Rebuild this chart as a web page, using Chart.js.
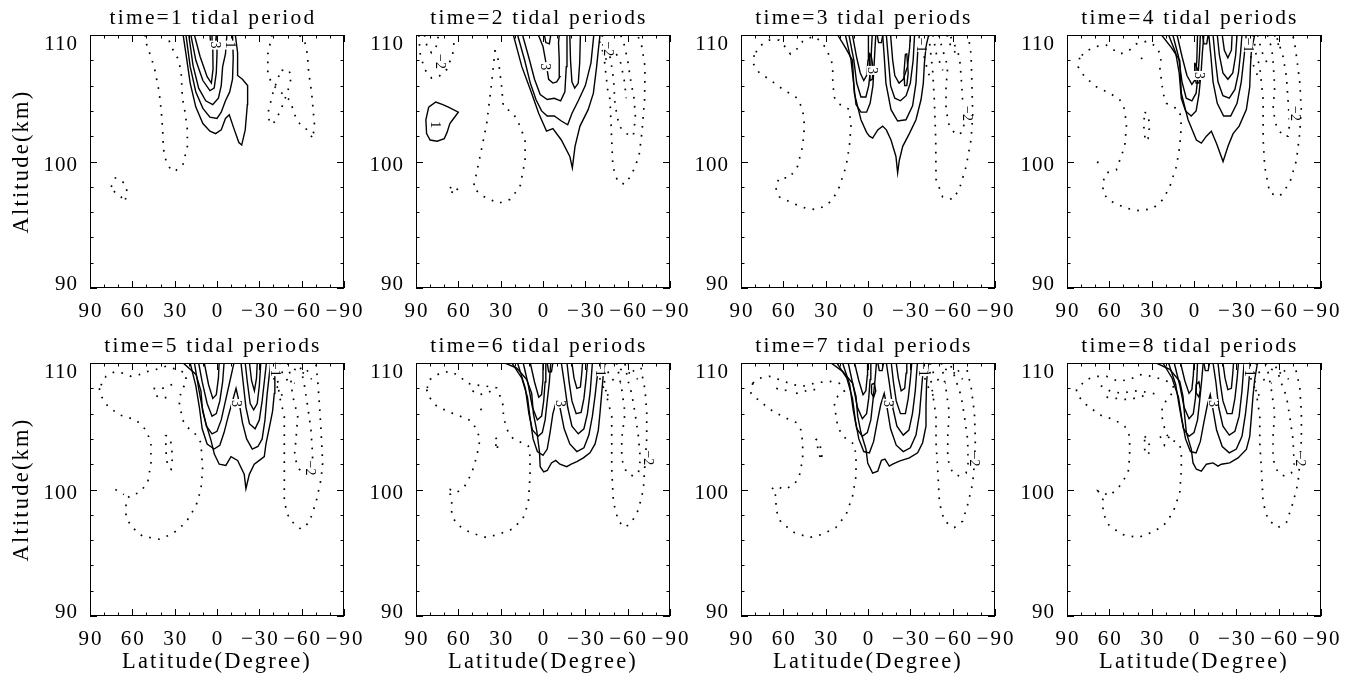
<!DOCTYPE html>
<html>
<head>
<meta charset="utf-8">
<script src="https://cdn.jsdelivr.net/npm/chart.js@4.4.1/dist/chart.umd.min.js"></script>
<style>
  body { margin: 0; background: #fff; width: 1357px; height: 682px; position: relative; overflow: hidden; }
  canvas { position: absolute; }
</style>
</head>
<body>
<script>
// AXIS VALUES
const latTicks = [90, 60, 30, 0, -30, -60, -90];
const latMinor = [80, 70, 50, 40, 20, 10, -10, -20, -40, -50, -70, -80];
const altTicks = [90, 100, 110];
const altMinor = [92, 94, 96, 98, 102, 104, 106, 108];
const titles = ["time=1 tidal period", "time=2 tidal periods", "time=3 tidal periods", "time=4 tidal periods",
  "time=5 tidal periods", "time=6 tidal periods", "time=7 tidal periods", "time=8 tidal periods"];

// CONTOURS: [latitude, altitude] pairs, pos = solid, neg = dotted
const p1Pos = [
  [[24,110],[22,108.5],[19,106.2],[15,104.3],[10,103],[5,102.4],[1,102.2],[-3,102.5],[-6,103.4],[-8.7,103.7],[-12,102.6],[-15.5,101.5],[-17.5,101.3],[-20,102.5],[-21.5,104.5],[-21.7,106],[-18,106.5],[-14.6,106.8],[-14.6,108.6],[-13,110]],
  [[22,110],[19,107.5],[15,105.5],[10,104.2],[5,103.5],[0,103.4],[-3,103.9],[-6,104.8],[-9,105.5],[-11,106.5],[-11.5,108.2],[-11,110]],
  [[20,110],[17,107.6],[13,105.8],[8,104.8],[3,104.5],[-1,105],[-3,106],[-4,107.5],[-6,108.5],[-7,110]],
  [[18.5,110],[15,108],[10,106.4],[5,105.6],[2,105.8],[0.5,107],[0,108.5],[0,110]],
  [[16,110],[12,108.3],[7,106.7],[4,106.2],[2.8,107.3],[3,109],[3.5,110]],
  [[0.5,110],[1,109.4],[3,109.1],[4.5,109.4],[5,110]]
];
const p1Neg = [
  [[51,110],[50,109.3],[46,108],[44,107.2],[41,105.5],[39.5,104],[38.5,102.5],[38,101],[36,100],[33,99.4],[30,99.2],[27,99.5],[24,99.8],[21,101.2],[21,102.5],[22.5,103.8],[24.5,105],[25.5,107.2],[28,108.2],[33,109.2],[35,110]],
  [[75,98],[72,98.7],[69,98.6],[65,98.2],[63.5,97.5],[65.5,96.8],[68,97.2],[72,97.5],[75,98]],
  [[-39,110],[-36,108.5],[-36,106.8],[-40,106],[-47,105.3],[-52,104.8],[-55,103.7],[-59,102.9],[-64,102.5],[-68,101.8],[-69,103],[-67,105.5],[-65,107],[-64,108.5],[-62,109.6],[-58,110]],
  [[-44,106.8],[-40,105.6],[-36.5,104],[-37,103],[-40.5,103.1],[-45,104],[-50,105.5],[-53,106.8],[-50,107.3],[-46,107.2],[-44,106.8]]
];
const p1Labels = [[2, 109.2, "3"], [-9, 109.2, "1"]];

const p2Pos = [
  [[21,110],[15,107.5],[9,105.7],[3,103.8],[-2.5,102.4],[-7,102.6],[-13,101.7],[-19,100.4],[-20.8,99.5],[-22.7,101.2],[-26.2,102.8],[-32,104.1],[-35.7,105.4],[-38,107.5],[-39.2,108.8],[-40.4,110]],
  [[18,110],[13,108],[9,106.2],[5,104.9],[1,104],[-3,103.6],[-8,103.6],[-13,103.2],[-17.5,102.9],[-20.5,103.8],[-25,104.8],[-30,106],[-34,107.8],[-36,110]],
  [[14.5,110],[10,108.2],[6,106.5],[2,105.3],[-3,104.9],[-8,105],[-12.5,104.8],[-15.5,105.5],[-16.5,107.5],[-17,110]],
  [[-19,110],[-19.5,108],[-20.5,106.3],[-22.5,105.8],[-25,106.2],[-26,107.8],[-26.5,110]],
  [[3.3,110],[0,109.1],[-2.6,107.5],[-4,106.5],[-7,106.2],[-9.7,106.3],[-12,106.7],[-11.5,108.1],[-11,109.4],[-11.5,110]],
  [[-1,110],[-2,109.4],[-4.5,109.3],[-5.5,110]],
  [[81,104.3],[76,104.7],[71,104.5],[67,104.3],[60,103.9],[64,103.3],[66,103],[68,102.3],[70,101.8],[75,101.6],[80,101.7],[82.5,102.2],[83,103.3],[81,104.3]]
];
const p2Neg = [
  [[88,110],[87,108.5],[84,107.3],[79,106.6],[74,106.7],[68,107.3],[64,108.5],[62.5,110]],
  [[84,110],[82,109],[79,108.6],[76,108.9],[74,110]],
  [[66,97.9],[63,98.1],[60,97.7],[62,97.5],[65,97.6]],
  [[34,108.8],[36.4,106.2],[39.9,103],[44.6,100.4],[49.4,97.9],[42.3,97.25],[31.6,96.7],[23.4,97],[16.3,98],[12.7,100.1],[12.7,101.7],[16.3,102.8],[21,103.8],[28.1,104.35],[29.3,105.9],[31.6,108],[34,108.8]],
  [[-42,110],[-43,108.5],[-44,107.5],[-46,105.5],[-47.5,104.9],[-48.5,102.2],[-49.5,99.6],[-53,98.4],[-58,98.2],[-63,99],[-68,100.4],[-70,102.2],[-72,104.9],[-72.3,107.5],[-70,109.1],[-67,110]],
  [[-46,109],[-48,108],[-50,106.5],[-51,104.5],[-54,102.8],[-59,102.2],[-64,102],[-65.5,103.5],[-64.5,105],[-62,106.5],[-60,108],[-57,109.5],[-55,110]],
  [[-40,109.5],[-42,108.8],[-45,108],[-48,107.6]],
  [[-52,108.5],[-55,107.8],[-57.5,106.5],[-59,105]]
];
const p2Labels = [[76.5, 102.9, "1"], [73.5, 107.9, "-2"], [-1.5, 107.5, "3"], [-46, 108.9, "-2"]];

const p3Pos = [
  [[21.5,110],[16,109],[11,108],[9.7,105.4],[5,103.3],[1,102.3],[-1,102],[-3.3,101.85],[-6.9,102.5],[-10.4,102.8],[-13,102.5],[-16.3,101.7],[-19.8,100.4],[-21,99.1],[-22.2,100.1],[-24.6,101.2],[-29.3,102.2],[-34,103.3],[-37.6,104.9],[-39.2,106.2],[-40,107.8],[-41.1,109.1],[-43,110]],
  [[16,110],[12,108],[10,106],[8.5,104.5],[5,103.9],[1,103.9],[-1.5,104.6],[-3.5,106],[-4.5,108],[-5.5,110]],
  [[13.5,110],[10,108],[8,106.2],[5,105.1],[1.5,105.1],[-0.5,106],[-2,107.5],[-2.5,109],[-3,110]],
  [[11,110],[8,108.2],[5.5,107],[3,106.4],[1,106.8],[0,108],[-0.3,110]],
  [[-1,108.6],[-2.5,108.2],[-3.8,107.3],[-3,106.5],[-1.5,106.4],[-0.8,107.3],[-1,108.6]],
  [[-10.4,110],[-11.5,108.3],[-12.7,106.2],[-16.3,104.1],[-21,103.2],[-26.9,103.3],[-31.6,104.4],[-34,106.2],[-35.2,108.6],[-36.4,110]],
  [[-13,110],[-14.5,108],[-16,106],[-19,105],[-23,104.8],[-27,105.2],[-30,106.2],[-32,108],[-33,110]],
  [[-16,110],[-17.5,108],[-19,106.8],[-22,106.2],[-25,106.5],[-28,107.5],[-29.5,109],[-30,110]],
  [[-26.5,108.5],[-25.5,107],[-26,106],[-27.5,106],[-28.5,107],[-27.5,108.5],[-26.5,108.5]],
  [[-6.5,110],[-7.5,109.4],[-9.5,109.4],[-10.5,110]]
];
const p3Neg = [
  [[80.6,108.4],[81.7,107.8],[77,107],[70,106.5],[62.8,105.9],[55.8,105.4],[50,105],[46.3,104.1],[45,102.8],[46.3,101.2],[50,99.6],[55.8,98.7],[62.8,98.7],[65.7,98],[62.8,97.2],[53.4,96.7],[44,96.3],[37,96.2],[30,96.5],[25,97],[20.3,98],[15.6,99.6],[13.2,101.2],[12.1,102.8],[13.2,104.1],[16.8,104.35],[21.5,104.6],[24,105.1],[25,106.5],[25,107.5],[26,108],[30,109],[34.5,109.6],[39,109.9],[46.3,109.5],[51,108.8],[55,108.5],[59,109.1],[63,109.6],[70,109.6],[77,109.1],[80.6,108.4]],
  [[-43,110],[-44.5,108.5],[-45.8,107.2],[-47,104.9],[-48,101.7],[-48.2,98.6],[-52.9,97.2],[-60,97],[-64.7,97.8],[-69.5,99.6],[-73,101.7],[-74.2,103.6],[-73.5,106.7],[-73,108.5],[-71,110]],
  [[-50,110],[-53,108.8],[-56.5,107.5],[-55.3,105.9],[-55.3,104.1],[-57.6,102.8],[-62.4,102.1],[-67,102.3],[-68.3,103.1],[-67,104.9],[-66,106.7],[-64.8,108.3],[-61,109.3],[-58,110]],
  [[-38,109],[-40,108.2],[-42,107.3],[-44,106.6]],
  [[-46,110],[-48.5,108.5],[-51,107.8],[-53,107.2]],
  [[-56,110],[-59,109],[-62,108.6]]
];
const p3Labels = [[-2.5, 107.2, "3"], [-37, 109.2, "-1"], [-70, 103.8, "-2"]];

const p4Pos = [
  [[23,110],[16,109],[10.1,108],[9,105.4],[4.2,103.3],[-1.7,101.7],[-5.2,101.45],[-8.8,102],[-12.3,102.4],[-15.9,101.45],[-20.6,100],[-24.1,101.2],[-27.7,102.2],[-32,102.8],[-37.1,104.1],[-39.5,105.9],[-40,107.5],[-40.7,108.8],[-43,110]],
  [[18,110],[13,108.6],[10.5,107],[9,105],[6,104],[2,103.6],[-1.5,104],[-3.5,105.3],[-5,107],[-6,108.7],[-7,110]],
  [[15,110],[11,108.3],[8.5,106.3],[5.5,105],[1.5,104.8],[-1.5,105.4],[-3,107],[-4,108.7],[-4.5,110]],
  [[12,110],[8.5,108.3],[5,106.8],[1.5,106.1],[-1,106.5],[-2,108],[-2.5,110]],
  [[-0.5,107.8],[-2.5,107.3],[-4.5,106.8],[-3.5,106.2],[-1.5,106.2],[-0.5,107],[-0.5,107.8]],
  [[-10.5,110],[-12,108.3],[-13.5,106.3],[-16.5,104.6],[-21,103.6],[-26,103.6],[-30.5,104.6],[-33.5,106.3],[-35.5,108.3],[-37,110]],
  [[-13.5,110],[-15,108.2],[-17,106.3],[-20.5,105.2],[-25,105],[-29,105.7],[-31.5,107],[-33,108.6],[-34,110]],
  [[-16.5,110],[-18,108.4],[-20.5,107],[-24,106.5],[-27.5,107],[-29.5,108.4],[-30.5,110]],
  [[-20,110],[-21.5,108.8],[-24,108.2],[-26.5,108.8],[-27,110]],
  [[-6,110],[-7,109.3],[-9,109.3],[-10,110]]
];
const p4Neg = [
  [[81,108.2],[82.2,107.5],[77.5,106.7],[69.2,105.9],[59.7,105.4],[52.7,104.9],[49.1,104.1],[47.9,102.8],[49.1,101.2],[55,99.35],[62.1,99.1],[64.5,98.4],[64.5,97.5],[59.7,96.9],[47.9,96.3],[38.5,96.1],[29,96.3],[21.9,97],[17.2,98],[12.5,99.6],[10.1,101.2],[9,102.8],[10.1,104],[14.9,104.35],[19.6,104.6],[21.9,105.4],[24.3,107.5],[23.1,108.3],[26.7,109.1],[33.7,109.5],[40.8,109.3],[46.7,108.7],[52.7,108.5],[58.6,108.95],[62.1,109.2],[69.2,109.1],[77,108.7],[81,108.2]],
  [[68.5,100],[66,99.5]],
  [[35,103.9],[32.6,103.7],[31.4,102.8],[32.6,101.8],[34.5,101.6],[35.6,102.8],[35,103.9]],
  [[37.5,108.2],[35,107.9],[33.5,107.7]],
  [[-42,110],[-44,108.5],[-46.6,107.5],[-49,104.9],[-49,101.7],[-50.1,99.6],[-53.7,97.5],[-60.7,97.25],[-67.8,98.3],[-72.6,100.1],[-74.9,102.2],[-76,104.1],[-75,106.2],[-73,108],[-71.4,109.3],[-70,110]],
  [[-52,110],[-55,109],[-56,108],[-57.2,105.9],[-56,104.1],[-58.4,102.8],[-63.1,102],[-66.6,102],[-67.8,103],[-66.6,104.9],[-65.5,106.7],[-63.1,108.3],[-60,109.4],[-58,110]],
  [[-38.5,109],[-40.5,108.2],[-43,107.3],[-45.5,106.7]],
  [[-45,110],[-48,108.7],[-51,108],[-53,107.4]],
  [[-57,110],[-60,109.2],[-63,108.8]]
];
const p4Labels = [[-3, 106.8, "3"], [-38, 109.2, "-1"], [-71, 103.8, "-2"]];

const p5Pos = [
  [[24,110],[14.9,109.1],[11.4,107.8],[10.2,106.2],[7.8,105.2],[4.3,103.9],[1.9,102.8],[-1.6,102],[-6.3,101.9],[-9.9,102.6],[-14.6,102.3],[-19.3,101.2],[-20.5,100.06],[-22.9,101.2],[-26.4,102],[-30,102.3],[-33.5,102.6],[-34.7,103.6],[-37.1,104.9],[-39.4,106.2],[-40.6,107.6],[-41,109],[-42,110]],
  [[19,110],[15,108.2],[12.5,106.5],[10.5,104.8],[7,103.6],[2,103.2],[-2,103.5],[-5,104.5],[-8,105.8],[-11,107],[-13.5,108],[-15.5,107],[-18,105.3],[-21,104],[-25,103.2],[-29,103.4],[-32,104],[-34,105.5],[-35.5,107.5],[-37,109],[-38,110]],
  [[16,110],[13,108],[10.5,106.5],[7.5,105],[3.5,104.4],[0,104.6],[-3,105.5],[-6,107],[-9,108.5],[-11,109.5],[-12,110]],
  [[-17,110],[-18.5,108.5],[-20.5,106.5],[-23,105.2],[-27,104.8],[-30,105.5],[-32,107],[-33.5,108.5],[-35,110]],
  [[13,110],[10.5,108.5],[7,106.8],[3.5,105.8],[0.5,106],[-2,107],[-4,108.5],[-5,110]],
  [[-20,110],[-21.5,108.5],[-23.5,106.8],[-26,106.3],[-28.5,106.8],[-30,108.2],[-31,110]],
  [[9,110],[6,108.3],[3,107.2],[0.5,107.5],[-1,108.8],[-1.5,110]],
  [[-23,110],[-24.5,108.6],[-26.5,107.8],[-28,108.8],[-28.5,110]]
];
const p5Neg = [
  [[83.4,108],[82.2,107.4],[77.5,106.6],[69.2,105.9],[63.3,105.7],[57.4,105.5],[50.3,104.7],[46.8,103.7],[46.8,102.1],[49.2,100.5],[55.1,99.75],[62.1,99.5],[64.5,99],[64.5,97.9],[61,97.1],[52.7,96.3],[40.9,96.07],[31.4,96.5],[22,97.4],[14.9,98.7],[11.4,100],[10.2,101.6],[11.4,103.7],[16.1,104.5],[20.8,104.9],[24.4,105.5],[26.7,106.85],[25.5,107.8],[22,108.4],[22,109.2],[29,109.5],[36.2,109.74],[43,109.5],[50.3,109.3],[55.1,109.08],[61,108.95],[66.9,109.2],[72.8,109.3],[78.7,108.95],[83.4,108]],
  [[72,100],[69,99.8],[66,99.6]],
  [[36.5,104.3],[33,104],[31.5,102.6],[32.5,101.6],[35,101.8],[36,102.8],[36.5,104.3]],
  [[45,108],[41,107.9],[36,108.1],[30,108.4]],
  [[43,107.4],[38,107.2],[33,107.4]],
  [[-42,110],[-43,108.6],[-44.2,107.4],[-47.7,105.8],[-47.7,104],[-47.7,101.6],[-47.7,99],[-51.2,97.64],[-59.5,96.86],[-65.4,97.4],[-70.2,99],[-73.7,100.8],[-74.9,102.1],[-73.7,104.7],[-72.5,106.85],[-71.3,108.7],[-70,110]],
  [[-50,110],[-52,109],[-53.6,107.4],[-57.2,105.8],[-56,104],[-54.8,102.6],[-58.3,101.6],[-63.1,101.2],[-66.6,101.6],[-67.8,102.6],[-66.6,104.7],[-64.2,106.6],[-62,108.2],[-60,109.3],[-58,110]],
  [[-38.5,109.5],[-41,108.5],[-44,107.8],[-47,107.3]],
  [[-44,110],[-47,109],[-51,108.5],[-55,108.4]],
  [[-50,110],[-55,109.5],[-60,109.3],[-64,109]],
  [[-60,110],[-64,109.4],[-67,108.7]]
];
const p5Labels = [[-13.5, 106.8, "3"], [-41, 109.5, "-1"], [-66, 101.7, "-2"]];

const p6Pos = [
  [[27,110],[18.6,109.6],[11.6,108.7],[8,107.6],[6.8,106],[4.5,104.7],[2.5,103],[2,101.8],[-0.5,101.4],[-3,101.5],[-6,102.1],[-9,102.3],[-12,102],[-16.8,101.8],[-20,102],[-24,102.2],[-28.6,102.5],[-33.3,102.9],[-36.9,103.6],[-39.2,104.7],[-40.4,106.06],[-41.6,107.6],[-42.8,109.2],[-44,110]],
  [[22,110],[15,108.8],[11,107.3],[9,105.5],[7,104],[4,103],[0,102.7],[-3,103.2],[-5,104.5],[-7,106],[-9.5,107],[-12,106.5],[-15,104.8],[-19,103.6],[-24,103],[-29,103.3],[-32.5,104.3],[-35,105.8],[-37,107.5],[-38.5,109],[-39.5,110]],
  [[18,110],[12.5,108],[10,106],[7.5,104.7],[3.5,104.2],[0.5,104.5],[-1.5,105.5],[-3,107],[-4.5,108.5],[-5.5,110]],
  [[14,110],[10.5,108.3],[7.5,106.5],[4,105.5],[1,105.8],[-0.5,107],[-1.5,108.5],[-2,110]],
  [[9,110],[6,108.5],[3,107.3],[1,107.5],[0,108.7],[0,110]],
  [[-13,110],[-15,108.5],[-17.5,106.5],[-20.5,105],[-25,104.4],[-29,104.8],[-31.5,106],[-33.5,107.8],[-35,110]],
  [[-17,110],[-18.5,108.5],[-20.5,107],[-23.5,106],[-27,106.1],[-29,107.2],[-30.5,108.7],[-31.5,110]],
  [[-20.5,110],[-22,108.8],[-24,108],[-26.5,108.1],[-27.5,109.2],[-28,110]],
  [[-3,110],[-4,109.3],[-6,109.3],[-7,110]]
];
const p6Neg = [
  [[82.4,107.9],[81.3,107.4],[75.4,106.6],[65.9,106.1],[56.5,105.7],[50.5,105.4],[47,104.7],[44.6,104],[47,102.6],[50.5,101.3],[55.3,100.3],[61.2,99.75],[66,100],[68.3,99.9],[65.5,99.6],[64.7,98.96],[64.7,98],[61.2,97.25],[51.7,96.6],[39.9,96.2],[30.5,96.5],[21,96.9],[13.9,97.8],[10.4,98.96],[9.2,101.06],[9.2,102.64],[10.4,103.43],[15.1,103.7],[21,104],[24.6,104.5],[28.1,105.7],[28.1,106.6],[30.5,107.4],[32.8,108.03],[39.9,108.16],[49.4,108.3],[54.1,108.4],[58.8,108.95],[65.9,109.34],[73,109.2],[80.1,108.7],[82.4,107.9]],
  [[50,107.8],[45,107.5],[40,107.6],[35,107.9]],
  [[44.5,106.3],[42.5,106.4]],
  [[33.5,104.1],[32.5,103.9],[32.2,103.2],[33.3,103.1],[33.5,104.1]],
  [[-42,110],[-43.5,108.6],[-45.1,107.4],[-48.7,105.8],[-48.7,104],[-48.7,101.6],[-49.9,99],[-53.4,97.5],[-58.1,97],[-62.8,97.4],[-67.6,98.4],[-71.1,100],[-72.3,102.1],[-73.5,104],[-73.5,106.06],[-72.3,107.9],[-70,109.2],[-69,110]],
  [[-52,110],[-54,109],[-55.8,107.9],[-58.1,106.06],[-55.8,104],[-55.8,102.4],[-59.3,101.3],[-64,101.06],[-67.6,101.3],[-69,102.4],[-67.6,104.2],[-65.2,106.06],[-62.8,107.6],[-60,108.7],[-58,110]],
  [[-38.5,109.5],[-41,108.5],[-44,107.8],[-47,107.3]],
  [[-44,110],[-47,109],[-51,108.5],[-55,108.4]],
  [[-50,110],[-55,109.5],[-60,109.3],[-64,109]],
  [[-60,110],[-64,109.4],[-67,108.7]]
];
const p6Labels = [[-12, 106.8, "3"], [-40, 109.5, "-1"], [-74, 102.5, "-2"]];

const p7Pos = [
  [[26.2,110],[18,109.34],[10.9,108.4],[8.5,107.37],[7.3,105.8],[5,104.5],[1.4,103.17],[0.2,102.1],[-3.3,101.3],[-6.9,101.45],[-9.5,102.3],[-12,102.4],[-15.1,101.85],[-17.5,102],[-22.2,102.25],[-29.3,102.5],[-35.2,102.9],[-38.7,103.7],[-41.1,105],[-41.1,106.58],[-41.5,108.4],[-42.3,109.5],[-43,110]],
  [[22,110],[15,108.8],[11,107.2],[9,105.5],[6.5,104],[3,103],[-1,102.9],[-4,103.8],[-6.5,105.3],[-9,106.7],[-11.5,107.6],[-13.5,106.5],[-16,104.8],[-20,103.5],[-25,103],[-30,103.3],[-34,104.3],[-36.5,106],[-38,108],[-39.5,110]],
  [[18,110],[13,108.3],[10.5,106.3],[8,104.8],[4,104.2],[0.5,104.5],[-2,105.5],[-3.5,107],[-5,108.7],[-6,110]],
  [[14,110],[10.5,108.2],[7.5,106.5],[4,105.6],[1,106],[-0.5,107.2],[-1.5,108.7],[-2,110]],
  [[9.5,110],[6.5,108.6],[3.5,107.5],[1.5,107.8],[0.5,109],[0.3,110]],
  [[-2.5,108.3],[-4.5,108.4],[-5.5,107.8],[-4,107.3],[-2.5,107.6],[-2.5,108.3]],
  [[-13,110],[-15,108.5],[-17.5,106.5],[-20.5,105],[-25,104.3],[-29,104.7],[-31.5,106],[-33.5,107.8],[-35,110]],
  [[-16.5,110],[-18,108.5],[-20,107],[-23,106],[-26.5,106],[-28.5,107.2],[-30,108.7],[-31,110]],
  [[-20,110],[-21.5,108.8],[-23.5,107.8],[-26,108],[-27,109.2],[-27.5,110]],
  [[-7,110],[-8,109.4],[-10,109.4],[-11,110]]
];
const p7Neg = [
  [[81.7,108.4],[82.9,107.6],[77,107],[67.6,106.2],[59.3,105.7],[51,105.3],[47.5,104.7],[46.3,103.7],[46.3,102.4],[48.7,101.06],[52.2,100.4],[59.3,100],[65.2,100.27],[68.7,100],[65.2,99.5],[65.2,98.4],[61.7,97.4],[52.2,96.6],[41.6,96.2],[32.1,96.46],[22.7,97],[15.6,98],[10.9,99.5],[8.5,101.06],[8.5,102.64],[9.7,103.56],[14.4,103.96],[18,104.2],[21.5,105],[22.7,105.8],[23.9,106.85],[21.5,107.37],[16.8,107.77],[20.3,108.4],[27.4,108.56],[36.9,108.43],[46.3,108.16],[53.4,108.3],[62.8,108.69],[69.9,108.95],[77,108.8],[81.7,108.4]],
  [[65,108],[60,107.8],[56,107.9]],
  [[51,107.6],[46.3,107.7],[41.6,107.9],[35,107.9]],
  [[37,104],[34.5,103.7],[32.5,102.8],[33.3,102.3],[35,103],[37,104]],
  [[-43,110],[-44.5,108.7],[-45.8,107.6],[-48.2,105.8],[-48.2,103.7],[-49.4,101.6],[-50.6,98.96],[-54.1,97.5],[-61.2,97],[-67.1,97.5],[-70.6,98.8],[-74.2,100.5],[-75.4,102.1],[-76.1,103.96],[-75.4,106.06],[-73,108.16],[-70.6,109.2],[-69.5,110]],
  [[-52,110],[-53.5,109],[-55.3,107.9],[-57.6,106.06],[-56.5,104.2],[-56.5,102.4],[-60,101.3],[-64.7,101.06],[-69.5,101.3],[-71,102.1],[-70.6,103.96],[-68.3,105.8],[-66,107.4],[-63,108.4],[-60,109.4],[-58,110]],
  [[-38.5,109.5],[-41,108.5],[-44,107.8],[-47,107.3]],
  [[-44,110],[-47,109],[-51,108.5],[-55,108.4]],
  [[-50,110],[-55,109.5],[-60,109.3],[-64,109]],
  [[-60,110],[-64,109.4],[-67,108.7]]
];
const p7Labels = [[-14, 106.8, "3"], [-39, 109.5, "-1"], [-75, 102.4, "-2"]];

const p8Pos = [
  [[26.7,110],[17.2,109.5],[10.1,108.56],[7.8,107.37],[6.6,105.8],[5.4,104.5],[1.9,103.17],[0.7,102.1],[-1.7,101.6],[-5.2,101.45],[-8.8,102],[-13.5,102.1],[-17,101.85],[-19.4,102],[-25.3,102.1],[-31.2,102.5],[-37.1,103.17],[-39.5,104.2],[-40.7,105.8],[-41.8,107.37],[-43,108.69],[-45,110]],
  [[22,110],[15.5,108.8],[11,107.3],[8.5,105.5],[6,104],[2.5,103],[-1.5,102.9],[-4.5,103.8],[-7,105.3],[-9.5,106.7],[-11.5,107.5],[-13.5,106.3],[-16,104.7],[-20,103.4],[-25,102.9],[-30,103.2],[-34,104.2],[-36.5,106],[-38.5,108],[-40,110]],
  [[18,110],[13,108.3],[10,106.3],[7.5,104.8],[3.5,104.2],[0,104.5],[-2.5,105.5],[-4,107],[-5.5,108.7],[-6.5,110]],
  [[14,110],[10,108.2],[7,106.5],[3.5,105.6],[0.5,106],[-1,107.2],[-2,108.7],[-2.5,110]],
  [[9.5,110],[6.5,108.6],[3.5,107.6],[1.5,107.9],[0.5,109],[0,110]],
  [[-1.5,108.3],[-3.5,108.5],[-4.5,107.9],[-3.5,107.3],[-1.8,107.6],[-1.5,108.3]],
  [[-13.5,110],[-15.5,108.5],[-17.5,106.5],[-20.5,105],[-25,104.3],[-29,104.6],[-32,105.8],[-34,107.8],[-35.5,110]],
  [[-17,110],[-18.5,108.5],[-20.5,107],[-23.5,106],[-27,106],[-29,107.2],[-30.5,108.7],[-31.5,110]],
  [[-20.5,110],[-22,108.8],[-24,107.9],[-26.5,108],[-27.5,109.2],[-28,110]],
  [[-7,110],[-8,109.4],[-10,109.4],[-11,110]]
];
const p8Neg = [
  [[83.4,107.9],[82.2,107.4],[76.3,106.7],[66.8,105.9],[56.2,105.5],[49.1,105],[45.6,104.2],[45.6,102.64],[46.7,101.3],[52.7,100.27],[59.7,99.5],[64.5,99.75],[68,99.88],[64.5,99.2],[64.5,98.17],[60.9,97.25],[51.5,96.46],[39.7,96.2],[30.2,96.6],[21.9,97.1],[14.9,98.17],[10.1,99.75],[9,101.6],[9,102.9],[10.1,103.56],[16,103.96],[19.6,104.35],[21.9,105.27],[23.1,106.06],[21.9,106.7],[17.2,107.37],[13.7,107.9],[16,108.4],[21.9,108.69],[30.2,108.95],[38.5,109.08],[45.6,108.69],[53.8,108.56],[62.1,108.95],[69.2,108.95],[76.3,108.69],[83.4,107.9]],
  [[66,108.2],[59.7,107.8],[51.5,107.6],[42.8,107.8],[33.5,107.7],[25,107.5]],
  [[62,107.3],[55,107.2],[46.7,107.1],[38.5,107.3],[31,107.6]],
  [[35,104.2],[32,103.9],[31.4,103],[33,102.7],[35,103.2],[35,104.2]],
  [[24,104.2],[21,103.5],[17,104.3]],
  [[-41.5,110],[-43,108.7],[-44.2,107.6],[-46.6,105.8],[-46.6,103.7],[-47.8,101.6],[-49,98.96],[-52.5,97.6],[-59.6,97],[-65.5,97.4],[-70.2,98.96],[-73.7,100.5],[-74.9,102.1],[-76.1,103.96],[-76.1,106.06],[-74.9,108.16],[-72.6,109.2],[-71.5,110]],
  [[-51,110],[-53,109],[-54.8,107.9],[-57.2,106.06],[-56,104.2],[-56,102.4],[-59.6,101.3],[-64.3,101.06],[-69,101.3],[-71,102],[-70.2,103.96],[-67.8,105.8],[-65.5,107.37],[-61.9,108.4],[-59,109.4],[-57,110]],
  [[-38.5,109.5],[-41,108.5],[-44,107.8],[-47,107.3]],
  [[-44,110],[-47,109],[-51,108.5],[-55,108.4]],
  [[-50,110],[-55,109.5],[-60,109.3],[-64,109]],
  [[-60,110],[-64,109.4],[-67,108.7]]
];
const p8Labels = [[-13.5, 106.8, "3"], [-39, 109.5, "-1"], [-75, 102.4, "-2"]];

const panels = [
  { pos: p1Pos, neg: p1Neg, labels: p1Labels },
  { pos: p2Pos, neg: p2Neg, labels: p2Labels },
  { pos: p3Pos, neg: p3Neg, labels: p3Labels },
  { pos: p4Pos, neg: p4Neg, labels: p4Labels },
  { pos: p5Pos, neg: p5Neg, labels: p5Labels },
  { pos: p6Pos, neg: p6Neg, labels: p6Labels },
  { pos: p7Pos, neg: p7Neg, labels: p7Labels },
  { pos: p8Pos, neg: p8Neg, labels: p8Labels }
];

// LAYOUT
const plotLeft = [90, 416, 741, 1067];
const plotTop = [35, 363];
const padL = 80, padT = 35, padR = 26, padB = 60;
const plotW = 254, plotH = 253;
const SERIF = '"Liberation Serif", "Times New Roman", serif';

function fmtLat(v) {
  return v < 0 ? "\u2212" + Math.abs(v) : String(v);
}

// IDL STYLE FRAME: box, inward ticks on all sides, labels, titles
const idlFrame = {
  id: "idlFrame",
  afterDatasetsDraw(chart, args, o) {
    const { ctx, chartArea: a, scales: { x, y } } = chart;
    ctx.save();
    ctx.strokeStyle = "#000";
    ctx.fillStyle = "#000";
    ctx.lineWidth = 1;

    // contour labels, with a small gap in the line like IDL
    ctx.font = "14px " + SERIF;
    ctx.textAlign = "center";
    ctx.textBaseline = "middle";
    o.labels.forEach(([lat, alt, txt]) => {
      const px = x.getPixelForValue(lat), py = y.getPixelForValue(alt);
      const w = ctx.measureText(txt).width;
      ctx.save();
      ctx.translate(px, py);
      ctx.rotate(Math.PI / 2);
      ctx.fillStyle = "#fff";
      ctx.fillRect(-w / 2 - 1, -5, w + 2, 10);
      ctx.fillStyle = "#000";
      ctx.fillText(txt.replace("-", "\u2212"), 0, 0);
      ctx.restore();
    });

    ctx.strokeRect(a.left + 0.5, a.top + 0.5, a.width - 1, a.height - 1);

    ctx.beginPath();
    const xt = (v, len) => {
      const px = Math.round(x.getPixelForValue(v)) + 0.5;
      ctx.moveTo(px, a.bottom); ctx.lineTo(px, a.bottom - len);
      ctx.moveTo(px, a.top); ctx.lineTo(px, a.top + len);
    };
    const yt = (v, len) => {
      const py = Math.round(y.getPixelForValue(v)) + 0.5;
      ctx.moveTo(a.left, py); ctx.lineTo(a.left + len, py);
      ctx.moveTo(a.right, py); ctx.lineTo(a.right - len, py);
    };
    latTicks.forEach(v => xt(v, 7));
    latMinor.forEach(v => xt(v, 3.5));
    altTicks.forEach(v => yt(v, 7));
    altMinor.forEach(v => yt(v, 3.5));
    ctx.stroke();

    // tick labels
    ctx.font = "21px " + SERIF;
    ctx.textBaseline = "alphabetic";
    ctx.textAlign = "center";
    ctx.letterSpacing = "2px";
    latTicks.forEach(v => ctx.fillText(fmtLat(v), x.getPixelForValue(v) + 1, a.bottom + 28.5));
    ctx.letterSpacing = "1px";
    ctx.textAlign = "right";
    altTicks.forEach(v => {
      let by = y.getPixelForValue(v) + 9;
      by = Math.min(Math.max(by, a.top + 15), a.bottom + 2);
      ctx.fillText(String(v), a.left - 12, by);
    });

    // panel title
    ctx.letterSpacing = "2.2px";
    ctx.textAlign = "center";
    ctx.font = "21.5px " + SERIF;
    ctx.fillText(o.title, (a.left + a.right) / 2 - 4, a.top - 11);

    // axis titles
    ctx.font = "22.5px " + SERIF;
    ctx.letterSpacing = "2.2px";
    if (o.showX) {
      ctx.fillText("Latitude(Degree)", (a.left + a.right) / 2, a.bottom + 52);
    }
    if (o.showY) {
      ctx.save();
      ctx.translate(a.left - 68, (a.top + a.bottom) / 2);
      ctx.rotate(-Math.PI / 2);
      ctx.textBaseline = "middle";
      ctx.fillText("Altitude(km)", 0, 0);
      ctx.restore();
    }
    ctx.restore();
  }
};

function lineSet(pts, dotted) {
  return {
    data: pts.map(([lat, alt]) => ({ x: lat, y: alt })),
    showLine: true,
    pointRadius: 0,
    borderColor: "#000",
    borderWidth: dotted ? 1.7 : 1.4,
    borderDash: dotted ? [1.7, 7.3] : [],
    tension: 0,
    fill: false
  };
}

panels.forEach((p, i) => {
  const col = i % 4, row = Math.floor(i / 4);
  const cv = document.createElement("canvas");
  cv.width = padL + plotW + padR;
  cv.height = padT + plotH + padB;
  cv.style.left = (plotLeft[col] - padL) + "px";
  cv.style.top = (plotTop[row] - padT) + "px";
  document.body.appendChild(cv);

  const datasets = p.neg.map(c => lineSet(c, true)).concat(p.pos.map(c => lineSet(c, false)));

  new Chart(cv, {
    type: "scatter",
    data: { datasets },
    options: {
      responsive: false,
      animation: false,
      events: [],
      layout: { padding: { left: padL, top: padT, right: padR, bottom: padB } },
      plugins: {
        legend: { display: false },
        tooltip: { enabled: false },
        idlFrame: { title: titles[i], labels: p.labels, showX: row === 1, showY: col === 0 }
      },
      scales: {
        x: { type: "linear", min: -90, max: 90, reverse: true, display: false },
        y: { type: "linear", min: 90, max: 110, display: false }
      }
    },
    plugins: [idlFrame]
  });
});
</script>
</body>
</html>
